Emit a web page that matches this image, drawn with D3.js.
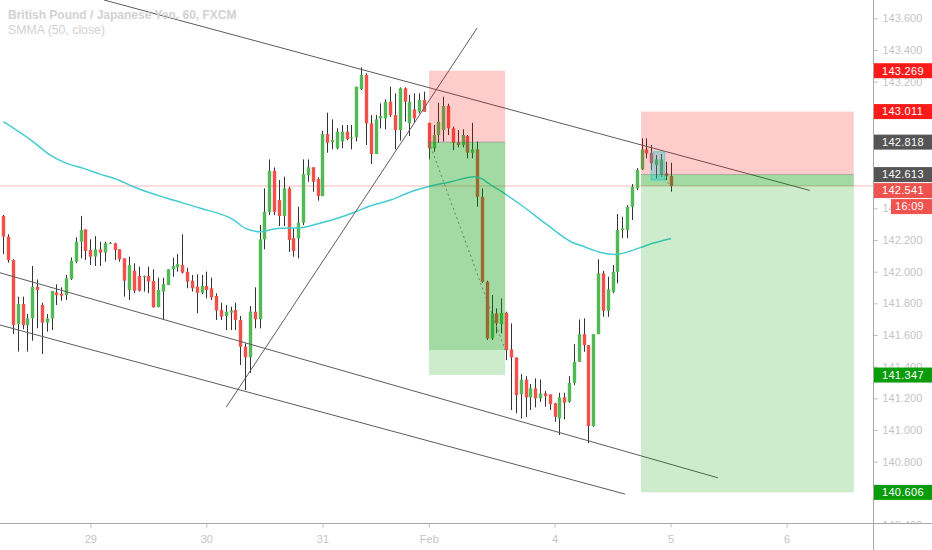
<!DOCTYPE html>
<html>
<head>
<meta charset="utf-8">
<script src="https://cdn.jsdelivr.net/npm/d3@7"></script>
<style>
  body { margin: 0; background: #fff; }
  svg { display: block; }
  text { font-family: "Liberation Sans", Arial, sans-serif; }
</style>
</head>
<body>
<svg id="chart" width="932" height="550"></svg>
<script>
// GBPJPY hourly candles (one per bar, left to right)
const openP = [142.352,142.221,142.074,141.669,141.796,141.663,141.705,141.905,141.789,141.678,
  141.705,141.869,141.861,141.852,141.954,142.063,142.189,142.267,142.137,142.095,
  142.141,142.120,142.179,142.179,142.141,142.084,141.884,142.006,141.973,141.968,
  141.973,141.941,141.775,141.874,141.916,142.015,142.027,142.042,141.999,141.943,
  141.905,141.867,141.909,141.895,141.846,141.758,141.720,141.741,141.758,141.695,
  141.526,141.459,141.747,141.699,142.204,142.378,142.637,142.452,142.351,142.526,
  142.212,142.210,142.309,142.610,142.659,142.585,142.477,142.869,142.818,142.779,
  142.822,142.884,142.842,142.848,143.153,143.242,142.937,142.743,142.968,142.968,
  143.073,142.989,142.894,143.158,142.937,143.025,143.010,143.084,142.940,142.779,
  142.863,142.894,143.046,142.905,142.816,142.800,142.856,142.751,142.772,142.473,
  141.936,141.578,141.736,141.669,141.740,141.509,141.458,141.226,141.318,141.206,
  141.263,141.200,141.231,141.225,141.168,141.073,141.206,141.178,141.298,141.430,
  141.605,141.536,141.025,141.605,141.989,141.753,141.873,141.999,142.263,142.263,
  142.410,142.526,142.646,142.772,142.751,142.673,142.610,142.621,142.604];
const highP = [142.358,142.236,142.078,141.842,141.842,141.733,142.036,141.951,141.804,141.733,
  141.878,141.920,141.901,141.979,142.090,142.217,142.352,142.267,142.204,142.225,
  142.189,142.189,142.187,142.183,142.141,142.084,142.095,142.053,142.032,141.975,
  142.032,142.015,141.962,141.962,142.015,142.088,142.111,142.236,142.025,141.979,
  141.983,141.979,142.000,141.962,141.863,141.804,141.789,141.779,141.804,141.720,
  141.547,141.783,141.901,142.295,142.526,142.709,142.658,142.579,142.600,142.536,
  142.273,142.410,142.709,142.709,142.659,142.596,142.890,143.004,142.962,142.905,
  142.926,142.926,142.926,143.168,143.290,143.253,142.989,142.989,143.063,143.088,
  143.168,143.126,143.164,143.164,143.116,143.126,143.126,143.137,142.940,142.926,
  143.067,143.105,143.060,142.916,142.894,142.899,142.863,142.940,142.822,142.526,
  141.943,141.852,141.768,141.831,141.747,141.673,141.458,141.353,141.340,141.290,
  141.326,141.319,141.247,141.225,141.172,141.235,141.235,141.340,141.542,141.698,
  141.705,141.536,141.605,142.078,142.005,141.968,142.042,142.364,142.347,142.421,
  142.553,142.654,142.842,142.842,142.800,142.736,142.743,142.694,142.688];
const lowP = [142.111,142.057,141.606,141.495,141.636,141.495,141.564,141.642,141.480,141.621,
  141.631,141.789,141.817,141.821,141.947,142.053,142.084,142.074,142.042,142.036,
  142.036,142.063,142.175,142.074,142.063,141.842,141.821,141.863,141.874,141.874,
  141.863,141.773,141.775,141.699,141.916,141.968,142.000,141.989,141.895,141.874,
  141.737,141.857,141.831,141.821,141.695,141.695,141.631,141.631,141.631,141.410,
  141.252,141.360,141.642,141.642,142.141,142.357,142.357,142.288,142.288,142.125,
  142.094,142.084,142.294,142.568,142.505,142.448,142.477,142.751,142.772,142.772,
  142.779,142.830,142.772,142.822,143.147,142.800,142.680,142.743,142.905,142.899,
  142.978,142.772,142.827,142.947,142.856,142.937,142.999,143.010,142.709,142.757,
  142.814,142.822,142.863,142.768,142.785,142.785,142.716,142.716,142.410,141.930,
  141.568,141.568,141.610,141.610,141.441,141.126,141.105,141.073,141.083,141.126,
  141.143,141.178,141.147,141.126,141.052,140.968,141.067,141.172,141.283,141.430,
  141.494,140.917,141.020,141.605,141.715,141.715,141.863,141.926,142.212,142.212,
  142.326,142.515,142.642,142.716,142.642,142.589,142.599,142.579,142.505];
const closeP = [142.221,142.074,141.663,141.796,141.663,141.705,141.905,141.884,141.678,141.705,
  141.878,141.852,141.848,141.958,142.069,142.189,142.263,142.130,142.095,142.141,
  142.120,142.179,142.183,142.137,142.078,141.943,142.042,141.880,141.880,141.973,
  141.937,141.775,141.884,141.922,142.015,142.036,142.048,141.994,141.937,141.895,
  141.867,141.909,141.884,141.838,141.754,141.716,141.747,141.754,141.695,141.526,
  141.459,141.747,141.699,142.204,142.378,142.637,142.378,142.351,142.526,142.200,
  142.130,142.309,142.616,142.659,142.568,142.477,142.869,142.814,142.831,142.884,
  142.884,142.837,142.848,143.168,143.242,142.937,142.743,142.962,142.983,143.073,
  142.989,142.894,143.158,143.073,143.073,142.968,143.084,143.010,142.779,142.863,
  142.947,143.046,142.905,142.814,142.800,142.863,142.751,142.772,142.473,141.936,
  141.578,141.736,141.673,141.740,141.504,141.458,141.220,141.318,141.206,141.263,
  141.200,141.231,141.214,141.163,141.083,141.206,141.172,141.298,141.430,141.605,
  141.536,141.025,141.605,141.989,141.753,141.888,141.999,142.263,142.273,142.410,
  142.536,142.642,142.772,142.747,142.684,142.709,142.709,142.604,142.541];

// SMMA (50, close): bar index and value
const smmaIdx = [0,6.2,9.7,13.1,16.6,20,23.8,26.9,33.9,40.8,47.7,50.1,53.2,56.7,61.5,64.9,69.1,
  72.9,76,80.1,84.3,88.4,92.6,97.4,98.8,100.9,103.6,107.1,112.3,117.4,120.2,123,126.4,
  128.5,131.3,134.7,138.1];
const smmaVal = [142.947,142.820,142.736,142.684,142.652,142.616,142.579,142.536,142.463,142.400,
  142.326,142.273,142.252,142.273,142.277,142.301,142.337,142.378,142.416,142.452,142.505,
  142.541,142.568,142.600,142.589,142.547,142.495,142.421,142.300,142.189,142.157,142.126,
  142.109,142.119,142.147,142.182,142.210];

// time axis
const dayTickIdx = [18, 42, 66, 88, 114, 138, 162];
const dayTickLabels = ["29", "30", "31", "Feb", "4", "5", "6"];

// price axis
const priceTicks = [140.4, 140.6, 140.8, 141.0, 141.2, 141.4, 141.6, 141.8, 142.0,
  142.2, 142.4, 142.6, 142.8, 143.0, 143.2, 143.4, 143.6];

// trend lines drawn on the chart: [bar1, price1, bar2, price2]
const trendLines = [
  [20.8, 143.716, 166.8, 142.513],
  [46.1, 141.144, 98.0, 143.539],
  [-0.7, 141.993, 147.8, 140.698],
  [-0.7, 141.663, 128.6, 140.595]
];

// short position tools
const posStart = [88.05, 131.9];
const posEnd = [103.8, 175.9];
const posStop = [143.269, 143.011];
const posEntry = [142.818, 142.613];
const posTarget = [141.347, 140.606];
const posReached = [141.505, 142.541];
const posPathStart = [88.05, 136];
const posPathEnd = [103.8, 138];

// small highlight rectangle
const hiliteBars = [134.0, 136.8];
const hilitePrices = [142.757, 142.579];

// labels on the price axis
const axisLabelPrices = [143.269, 143.011, 142.818, 142.613, 142.541, 141.347, 140.606];
const axisLabelColors = ["#ff1a1a", "#ff1a1a", "#555555", "#555555", "#ef5350", "#0a9c0a", "#0a9c0a"];
const lastPrice = 142.541;
const countdown = "16:09";

const W = 932, H = 550, plotR = 873, plotB = 523;
const svg = d3.select("#chart");

const x = d3.scaleLinear().domain([0, 162]).range([3.3, 786.6]);
const y = d3.scaleLinear().domain([140.4, 143.6]).range([525, 18.3]);

svg.append("defs").append("clipPath").attr("id", "plotClip")
  .append("rect").attr("x", 0).attr("y", 0).attr("width", plotR).attr("height", plotB);
svg.select("defs").append("clipPath").attr("id", "axisClip")
  .append("rect").attr("x", plotR).attr("y", 0).attr("width", W - plotR).attr("height", plotB);

const plot = svg.append("g").attr("clip-path", "url(#plotClip)");

// last price line
plot.append("line")
  .attr("x1", 0).attr("x2", plotR)
  .attr("y1", y(lastPrice)).attr("y2", y(lastPrice))
  .style("stroke", "#f7b7b7").style("stroke-width", 1);

// candles
const candles = d3.range(openP.length).map(i => ({
  i: i, o: openP[i], h: highP[i], l: lowP[i], c: closeP[i]
}));
const bw = 3.4;

plot.selectAll(".wick").data(candles).enter()
  .append("line")
  .attr("class", "wick")
  .attr("x1", d => Math.round(x(d.i)) + 0.5)
  .attr("x2", d => Math.round(x(d.i)) + 0.5)
  .attr("y1", d => y(d.h))
  .attr("y2", d => y(d.l))
  .style("stroke", "#333")
  .style("stroke-width", 1);

plot.selectAll(".body").data(candles).enter()
  .append("rect")
  .attr("class", "body")
  .attr("x", d => Math.round(x(d.i)) + 0.5 - bw / 2)
  .attr("y", d => y(Math.max(d.o, d.c)))
  .attr("width", bw)
  .attr("height", d => Math.max(1, Math.abs(y(d.o) - y(d.c))))
  .style("fill", d => d.c >= d.o ? "#53b957" : "#f0514a");

// smma
const smma = smmaIdx.map((v, k) => [v, smmaVal[k]]);
plot.append("path")
  .datum(smma)
  .attr("d", d3.line().x(d => x(d[0])).y(d => y(d[1])).curve(d3.curveMonotoneX))
  .style("fill", "none")
  .style("stroke", "#45cbd2")
  .style("stroke-width", 1.5);

// trend lines
plot.selectAll(".trend").data(trendLines).enter()
  .append("line")
  .attr("class", "trend")
  .attr("x1", d => x(d[0])).attr("y1", d => y(d[1]))
  .attr("x2", d => x(d[2])).attr("y2", d => y(d[3]))
  .style("stroke", "#5c5c5c")
  .style("stroke-width", 1);

// position boxes
posStart.forEach((s, k) => {
  const x0 = x(s), x1 = x(posEnd[k]);
  plot.append("rect")
    .attr("x", x0).attr("width", x1 - x0)
    .attr("y", y(posStop[k])).attr("height", y(posEntry[k]) - y(posStop[k]))
    .style("fill", "rgba(255,0,0,0.2)");
  plot.append("rect")
    .attr("x", x0).attr("width", x1 - x0)
    .attr("y", y(posEntry[k])).attr("height", y(posTarget[k]) - y(posEntry[k]))
    .style("fill", "rgba(0,160,0,0.2)");
  plot.append("rect")
    .attr("x", x0).attr("width", x1 - x0)
    .attr("y", y(posEntry[k])).attr("height", y(posReached[k]) - y(posEntry[k]))
    .style("fill", "rgba(0,150,0,0.2)");
  plot.append("line")
    .attr("x1", x0).attr("x2", x1)
    .attr("y1", y(posEntry[k])).attr("y2", y(posEntry[k]))
    .style("stroke", "rgba(90,90,90,0.35)");
  plot.append("line")
    .attr("x1", x(posPathStart[k])).attr("y1", y(posEntry[k]))
    .attr("x2", x(posPathEnd[k])).attr("y2", y(posReached[k]))
    .style("stroke", "#777")
    .style("stroke-width", 1)
    .style("stroke-dasharray", "2,3");
});

// highlight rect
plot.append("rect")
  .attr("x", x(hiliteBars[0])).attr("width", x(hiliteBars[1]) - x(hiliteBars[0]))
  .attr("y", y(hilitePrices[0])).attr("height", y(hilitePrices[1]) - y(hilitePrices[0]))
  .style("fill", "rgba(0,200,210,0.3)")
  .style("stroke", "rgba(0,200,210,0.5)");

// legend
svg.append("text").attr("x", 8).attr("y", 19)
  .style("font-size", "12px").style("font-weight", "bold").style("fill", "#d2d2d2")
  .text("British Pound / Japanese Yen, 60, FXCM");
svg.append("text").attr("x", 8).attr("y", 34)
  .style("font-size", "12.3px").style("fill", "#d2d2d2")
  .text("SMMA (50, close)");

// axes frame
svg.append("line").attr("x1", 0).attr("x2", W).attr("y1", plotB + 0.5).attr("y2", plotB + 0.5)
  .style("stroke", "#a8a8a8");
svg.append("line").attr("x1", plotR + 0.5).attr("x2", plotR + 0.5).attr("y1", 0).attr("y2", H)
  .style("stroke", "#a8a8a8");

// price axis
const yAxis = svg.append("g")
  .attr("clip-path", "url(#axisClip)")
  .append("g")
  .attr("transform", `translate(${plotR + 0.5},0)`)
  .call(d3.axisRight(y).tickValues(priceTicks).tickFormat(d3.format(".3f")).tickSize(4).tickPadding(5));
yAxis.select(".domain").remove();
yAxis.selectAll("line").style("stroke", "#bdbdbd");
yAxis.selectAll("text").style("fill", "#c4c4c4").style("font-size", "11px")
  .style("font-family", '"Liberation Sans", Arial, sans-serif');

// time axis
const xAxis = svg.append("g")
  .attr("transform", `translate(0,${plotB + 0.5})`)
  .call(d3.axisBottom(x).tickValues(dayTickIdx).tickFormat((d, k) => dayTickLabels[k]).tickSize(4).tickPadding(8));
xAxis.select(".domain").remove();
xAxis.selectAll("line").style("stroke", "#bdbdbd");
xAxis.selectAll("text").style("fill", "#c4c4c4").style("font-size", "11px")
  .style("font-family", '"Liberation Sans", Arial, sans-serif');

// price labels, pushed apart when they overlap
const lh = 15;
const labels = axisLabelPrices.map((p, k) => ({ p: p, c: axisLabelColors[k], top: y(p) - lh / 2 }))
  .sort((a, b) => a.top - b.top);
for (let k = 1; k < labels.length; k++) {
  const minTop = labels[k - 1].top + lh + 1;
  if (labels[k].top < minTop) labels[k].top = minTop;
}
const lg = svg.append("g");
labels.forEach(d => {
  lg.append("rect").attr("x", plotR + 1).attr("y", d.top).attr("width", W - plotR - 1).attr("height", lh)
    .style("fill", d.c);
  lg.append("text").attr("x", plotR + 9).attr("y", d.top + lh / 2).attr("dy", "0.35em")
    .style("font-size", "11px").style("fill", "#fff").style("letter-spacing", "0.3px")
    .text(d3.format(".3f")(d.p));
  if (d.p === lastPrice) {
    lg.append("rect").attr("x", 891).attr("y", d.top + lh + 1).attr("width", W - 891).attr("height", lh)
      .style("fill", d.c);
    lg.append("text").attr("x", 895).attr("y", d.top + lh + 1 + lh / 2).attr("dy", "0.35em")
      .style("font-size", "11px").style("fill", "#fff").style("letter-spacing", "0.3px")
      .text(countdown);
  }
});
</script>
</body>
</html>
